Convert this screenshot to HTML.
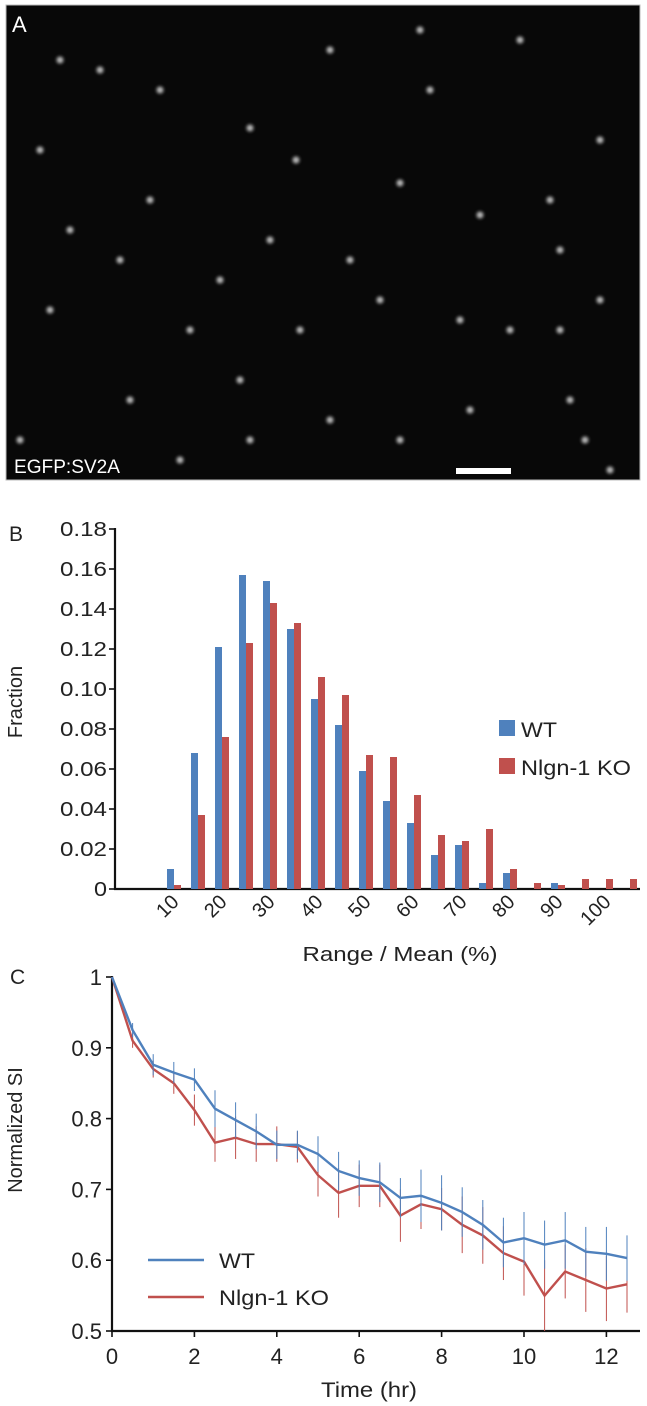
<!DOCTYPE html>
<html><head><meta charset="utf-8"><style>
html,body{margin:0;padding:0;background:#fff;}
svg{display:block;font-family:"Liberation Sans",Arial,sans-serif;}
</style></head><body>
<svg id="fig" width="647" height="1406" viewBox="0 0 647 1406" xmlns="http://www.w3.org/2000/svg">
<defs><filter id="blur" x="-50%" y="-50%" width="200%" height="200%"><feGaussianBlur stdDeviation="1.6"/></filter></defs>
<g>
<rect x="6" y="5" width="634" height="475" fill="#080808" stroke="#bbb" stroke-width="1"/>
<g id="dots" filter="url(#blur)"></g>
<text x="12" y="32" font-size="22" fill="#fff">A</text>
<text x="14" y="473" font-size="19" fill="#fff" textLength="106" lengthAdjust="spacingAndGlyphs">EGFP:SV2A</text>
<rect x="456" y="468" width="55" height="6" fill="#fff"/>
</g>
<g id="hist">
<text x="9" y="541" font-size="21" fill="#222">B</text>
<text transform="translate(22,702) rotate(-90)" text-anchor="middle" font-size="20" fill="#222">Fraction</text>
<text x="400" y="961" text-anchor="middle" font-size="20" fill="#222" textLength="195" lengthAdjust="spacingAndGlyphs">Range / Mean (%)</text>
<rect x="499" y="720" width="16" height="16" fill="#4f81bd"/>
<text x="521" y="737" font-size="21" fill="#222" textLength="36" lengthAdjust="spacingAndGlyphs">WT</text>
<rect x="499" y="758" width="16" height="16" fill="#c0504d"/>
<text x="521" y="775" font-size="21" fill="#222" textLength="110" lengthAdjust="spacingAndGlyphs">Nlgn-1 KO</text>
</g>
<g id="line">
<text x="10" y="984" font-size="21" fill="#222">C</text>
<text transform="translate(22,1130) rotate(-90)" text-anchor="middle" font-size="20" fill="#222">Normalized SI</text>
<text x="369" y="1397" text-anchor="middle" font-size="21" fill="#222" textLength="96" lengthAdjust="spacingAndGlyphs">Time (hr)</text>
<line x1="148" y1="1260" x2="204" y2="1260" stroke="#4f81bd" stroke-width="2.5"/>
<text x="219" y="1268" font-size="21" fill="#222" textLength="36" lengthAdjust="spacingAndGlyphs">WT</text>
<line x1="148" y1="1297" x2="204" y2="1297" stroke="#c0504d" stroke-width="2.5"/>
<text x="219" y="1305" font-size="21" fill="#222" textLength="110" lengthAdjust="spacingAndGlyphs">Nlgn-1 KO</text>
</g>
</svg>
<script>
const histWT=[0.010,0.068,0.121,0.157,0.154,0.130,0.095,0.082,0.059,0.044,0.033,0.017,0.022,0.003,0.008,0,0.003,0,0,0];
const histKO=[0.002,0.037,0.076,0.123,0.143,0.133,0.106,0.097,0.067,0.066,0.047,0.027,0.024,0.030,0.010,0.003,0.002,0.005,0.005,0.005];
const histYTicks=[0,0.02,0.04,0.06,0.08,0.10,0.12,0.14,0.16,0.18];
const histYTickLabels=["0","0.02","0.04","0.06","0.08","0.10","0.12","0.14","0.16","0.18"];
const histXLabels=["10","20","30","40","50","60","70","80","90","100"];
const times=[0,0.5,1,1.5,2,2.5,3,3.5,4,4.5,5,5.5,6,6.5,7,7.5,8,8.5,9,9.5,10,10.5,11,11.5,12,12.5];
const siWT=[1,0.925,0.876,0.865,0.855,0.814,0.798,0.782,0.763,0.763,0.750,0.726,0.716,0.710,0.688,0.691,0.681,0.668,0.650,0.625,0.631,0.622,0.628,0.612,0.609,0.603];
const siKO=[1,0.910,0.870,0.850,0.812,0.766,0.773,0.764,0.764,0.760,0.720,0.695,0.705,0.705,0.663,0.679,0.672,0.650,0.635,0.610,0.598,0.550,0.584,0.572,0.560,0.566];
const errWT=[0,0.01,0.015,0.015,0.016,0.026,0.025,0.025,0.02,0.02,0.025,0.027,0.025,0.028,0.028,0.037,0.039,0.035,0.035,0.035,0.037,0.034,0.04,0.035,0.038,0.032];
const errKO=[0,0.01,0.012,0.015,0.022,0.027,0.03,0.025,0.025,0.022,0.03,0.035,0.03,0.03,0.037,0.035,0.03,0.04,0.04,0.038,0.048,0.05,0.038,0.045,0.046,0.04];
const siYTicks=[0.5,0.6,0.7,0.8,0.9,1];
const siYTickLabels=["0.5","0.6","0.7","0.8","0.9","1"];
const siXTicks=[0,2,4,6,8,10,12];
const dotsData=[[250,128],[296,160],[400,183],[480,215],[60,60],[100,70],[160,90],[330,50],[380,300],[430,90],[550,200],[560,250],[600,300],[570,400],[585,440],[50,310],[20,440],[130,400],[240,380],[350,260],[220,280],[300,330],[460,320],[510,330],[600,140],[520,40],[420,30],[150,200],[120,260],[70,230],[270,240],[190,330],[330,420],[400,440],[470,410],[560,330],[610,470],[250,440],[180,460],[40,150]];
const NS="http://www.w3.org/2000/svg";
function mk(tag,attrs,parent){const e=document.createElementNS(NS,tag);for(const k in attrs)e.setAttribute(k,attrs[k]);parent.appendChild(e);return e;}
const dg=document.getElementById('dots');
dotsData.forEach(d=>{const c=mk('circle',{cx:d[0],cy:d[1],r:3.5,fill:'#ccc',opacity:0.9},dg);

});
// histogram
const hg=document.getElementById('hist');
const hy=v=>889-v/0.02*40;
const hx=i=>167+i*24;
const ax1=mk('line',{x1:115,y1:528,x2:115,y2:890,stroke:'#111','stroke-width':2.2},hg);


const ax2=mk('line',{x1:114,y1:889,x2:640,y2:889,stroke:'#111','stroke-width':2.2},hg);


histYTicks.forEach((t,i)=>{
const tk=mk('line',{x1:109,y1:hy(t),x2:115,y2:hy(t),stroke:'#111','stroke-width':1.6},hg);


const lbl=histYTickLabels[i];
const tx=mk('text',{x:107,y:hy(t)+7,'text-anchor':'end','font-size':20,fill:'#222',textLength:lbl.length>1?47:13,lengthAdjust:'spacingAndGlyphs'},hg);tx.textContent=lbl;

});
histWT.forEach((v,i)=>{
const b=mk('rect',{x:hx(i),y:hy(v),width:7,height:889-hy(v),fill:'#4f81bd'},hg);


const k=mk('rect',{x:hx(i)+7,y:hy(histKO[i]),width:7,height:889-hy(histKO[i]),fill:'#c0504d'},hg);

});
histXLabels.forEach((l,i)=>{
const x=hx(2*i)+13;
const t=mk('text',{transform:`translate(${x},903) rotate(-45)`,'text-anchor':'end','font-size':20,fill:'#222'},hg);t.textContent=l;

});
// line chart
const lg=document.getElementById('line');
const lx=t=>112+t*41.2;
const ly=v=>1331-(v-0.5)*708;
const a1=mk('line',{x1:112,y1:976,x2:112,y2:1332,stroke:'#111','stroke-width':2.2},lg);


const a2=mk('line',{x1:111,y1:1331,x2:640,y2:1331,stroke:'#111','stroke-width':2.2},lg);


siYTicks.forEach((t,i)=>{
const tk=mk('line',{x1:106,y1:ly(t),x2:112,y2:ly(t),stroke:'#111','stroke-width':1.6},lg);


const tx=mk('text',{x:102,y:ly(t)+8,'text-anchor':'end','font-size':22,fill:'#222'},lg);tx.textContent=siYTickLabels[i];

});
siXTicks.forEach(t=>{
const tk=mk('line',{x1:lx(t),y1:1331,x2:lx(t),y2:1337,stroke:'#111','stroke-width':1.6},lg);


const tx=mk('text',{x:lx(t),y:1364,'text-anchor':'middle','font-size':22,fill:'#222'},lg);tx.textContent=String(t);

});
function series(vals,errs,color,name){
vals.forEach((v,i)=>{if(errs[i]>0){
const e=mk('line',{x1:lx(times[i]),y1:ly(v-errs[i]),x2:lx(times[i]),y2:ly(v+errs[i]),stroke:color,'stroke-width':1},lg);

}});
const p=mk('polyline',{points:vals.map((v,i)=>lx(times[i])+','+ly(v)).join(' '),fill:'none',stroke:color,'stroke-width':2.4},lg);

}
series(siKO,errKO,'#c0504d','ko');
series(siWT,errWT,'#4f81bd','wt');
</script>
</body></html>
